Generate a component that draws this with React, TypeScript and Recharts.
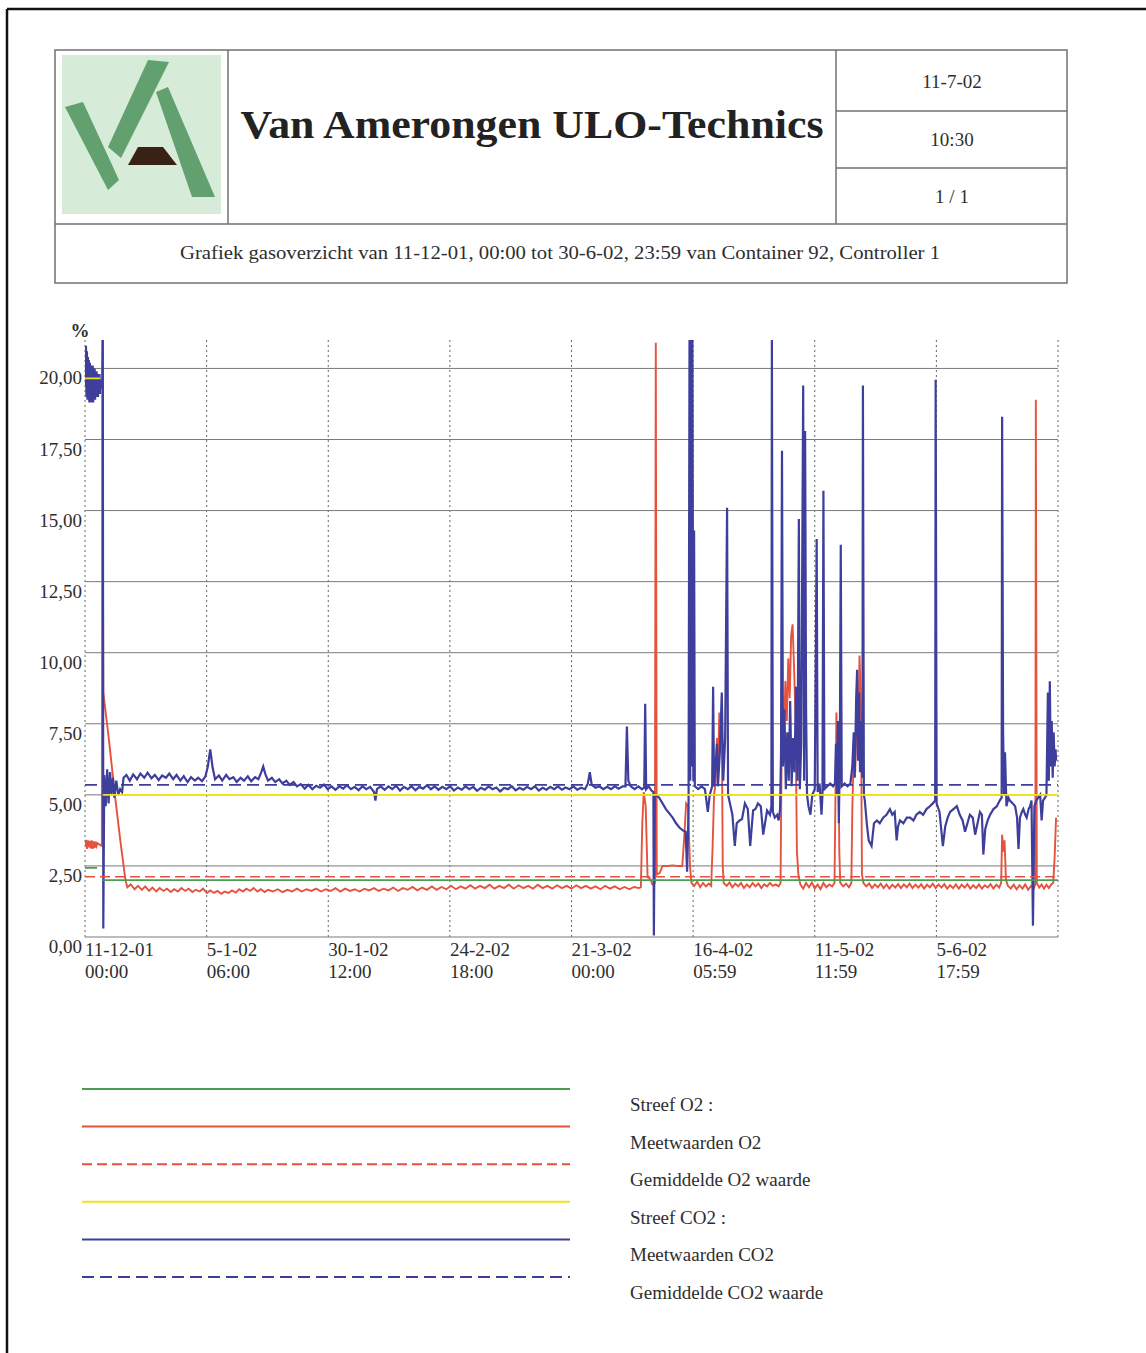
import { LineChart, Line, XAxis, YAxis, CartesianGrid, ReferenceLine } from 'recharts';

type Pt = [number, number | null];

// x = days since 11-12-01 00:00, y = percent
const X_TICKS = [0, 25.25, 50.5, 75.75, 101, 126.25, 151.5, 176.75];
const X_DATES = ['11-12-01', '5-1-02', '30-1-02', '24-2-02', '21-3-02', '16-4-02', '11-5-02', '5-6-02'];
const X_TIMES = ['00:00', '06:00', '12:00', '18:00', '00:00', '05:59', '11:59', '17:59'];
const Y_TICKS = [0, 2.5, 5, 7.5, 10, 12.5, 15, 17.5, 20];

const STREEF_O2: Pt[] = [[0, 2.43], [2.5, 2.43], [3.0, null], [3.7, 2.0], [202, 2.0]];
const GEM_O2: Pt[] = [[0, 2.12], [202, 2.12]];
const STREEF_CO2: Pt[] = [[0, 19.65], [3.1, 19.65], [3.4, null], [3.7, 5.0], [202, 5.0]];
const GEM_CO2: Pt[] = [[0, 5.35], [202, 5.35]];

const MEET_O2: Pt[] = [
    [0, 3.2], [0.2, 3.42], [0.4, 3.1], [0.6, 3.4], [0.8, 3.15], [1.0, 3.38], [1.2, 3.12], [1.4, 3.4],
    [1.6, 3.1], [1.8, 3.36], [2.0, 3.14], [2.2, 3.35], [2.4, 3.2], [2.6, 3.3],
    [3.5, 3.2], [3.6, 21], [3.8, 8.6], [5.0, 6.9], [6.2, 5.0], [7.4, 3.3], [8.4, 2.0], [8.8, 1.75],
    [9.5, 1.85], [10.3, 1.68], [11, 1.8], [11.8, 1.66], [12.5, 1.78], [13.3, 1.62], [14, 1.74], [14.8, 1.6],
    [15.5, 1.72], [16.3, 1.62], [17, 1.7], [17.8, 1.58], [18.5, 1.68], [19.3, 1.6], [20, 1.72], [20.8, 1.62],
    [21.5, 1.7], [22.3, 1.58], [23, 1.66], [23.8, 1.6], [24.5, 1.7], [25.3, 1.55], [26, 1.64], [26.8, 1.55],
    [27.5, 1.62], [28.3, 1.52], [29, 1.6], [29.8, 1.55], [30.5, 1.64], [31.3, 1.56], [32, 1.68], [32.8, 1.6],
    [33.5, 1.7], [34.3, 1.62], [35, 1.72], [35.8, 1.6], [36.5, 1.68], [37.3, 1.58], [38, 1.66], [39, 1.6],
    [40, 1.68], [41, 1.58], [42, 1.66], [43, 1.6], [44, 1.7], [45, 1.6], [46, 1.68], [47, 1.62],
    [48, 1.7], [49, 1.6], [50, 1.68], [51, 1.62], [52, 1.72], [53, 1.6], [54, 1.7], [55, 1.62],
    [56, 1.68], [57, 1.6], [58, 1.7], [59, 1.64], [60, 1.72], [61, 1.62], [62, 1.7], [63, 1.64],
    [64, 1.74], [65, 1.62], [66, 1.72], [67, 1.66], [68, 1.76], [69, 1.64], [70, 1.74], [71, 1.66],
    [72, 1.78], [73, 1.66], [74, 1.76], [75, 1.68], [76, 1.8], [77, 1.68], [78, 1.78], [79, 1.7],
    [80, 1.82], [81, 1.7], [82, 1.8], [83, 1.72], [84, 1.84], [85, 1.7], [86, 1.8], [87, 1.72],
    [88, 1.84], [89, 1.7], [90, 1.82], [91, 1.72], [92, 1.8], [93, 1.7], [94, 1.84], [95, 1.72],
    [96, 1.8], [97, 1.7], [98, 1.82], [99, 1.72], [100, 1.8], [101, 1.7], [102, 1.82], [103, 1.72],
    [104, 1.8], [105, 1.7], [106, 1.78], [107, 1.68], [108, 1.8], [109, 1.7], [110, 1.78], [111, 1.68],
    [112, 1.76], [113, 1.68], [114, 1.76], [115.0, 1.72], [115.4, 1.75], [115.7, 4.0], [116.0, 5.1], [116.4, 4.6],
    [116.8, 2.1], [117.3, 2.05], [117.8, 1.85], [118.3, 1.9], [118.5, 20.9], [118.7, 2.2], [119.3, 2.25], [119.9, 2.5],
    [121, 2.5], [122, 2.52], [123, 2.5], [124.0, 2.5], [124.4, 3.5], [124.8, 4.7], [125.2, 4.6], [125.6, 2.5],
    [125.9, 1.9], [126.5, 1.8], [127.1, 1.95], [127.7, 1.75], [128.3, 1.9], [128.9, 1.78], [129.5, 1.88], [130.0, 1.8],
    [130.3, 3.2], [130.6, 5.0], [130.9, 5.4], [131.2, 7.0], [131.4, 6.0], [131.7, 7.9], [132.0, 6.5], [132.2, 7.4],
    [132.4, 2.5], [132.6, 1.9], [133.2, 1.8], [133.8, 1.92], [134.4, 1.75], [135.0, 1.88], [135.6, 1.78], [136.2, 1.9],
    [136.8, 1.72], [137.4, 1.85], [138.0, 1.75], [138.6, 1.9], [139.2, 1.78], [139.8, 1.88], [140.4, 1.72], [141.0, 1.85],
    [141.6, 1.78], [142.2, 1.9], [142.8, 1.8], [143.4, 1.85], [144.0, 1.78], [144.4, 1.9], [144.6, 6.0], [144.8, 8.1],
    [145.1, 6.8], [145.4, 9.0], [145.7, 7.6], [146.0, 9.8], [146.3, 8.4], [146.6, 10.6], [146.9, 11.0], [147.2, 9.5],
    [147.5, 7.8], [147.8, 3.0], [148.1, 2.2], [148.5, 1.85], [149.1, 1.7], [149.7, 1.9], [150.3, 1.75], [150.9, 1.92],
    [151.5, 1.7], [152.1, 1.85], [152.7, 1.68], [153.3, 1.9], [153.9, 1.75], [154.5, 1.85], [155.1, 1.78], [155.6, 1.9],
    [155.8, 5.0], [156.0, 7.9], [156.2, 6.2], [156.4, 7.0], [156.6, 3.0], [156.8, 1.9], [157.4, 1.78], [158.0, 1.88],
    [158.6, 1.75], [159.1, 1.9], [159.3, 4.5], [159.6, 6.5], [159.9, 5.8], [160.2, 7.8], [160.5, 7.0], [160.8, 9.9],
    [161.1, 8.0], [161.3, 2.2], [161.6, 1.9], [162.2, 1.78], [162.8, 1.88], [163.4, 1.72], [164.0, 1.85], [164.6, 1.75],
    [165.2, 1.88], [165.8, 1.72], [166.4, 1.85], [167.0, 1.7], [167.6, 1.84], [168.2, 1.74], [168.8, 1.86], [169.4, 1.72],
    [170.0, 1.85], [170.6, 1.75], [171.2, 1.88], [171.8, 1.72], [172.4, 1.84], [173.0, 1.74], [173.6, 1.86], [174.2, 1.7],
    [174.8, 1.84], [175.4, 1.75], [176.0, 1.88], [176.6, 1.72], [177.2, 1.85], [177.8, 1.74], [178.4, 1.86], [179.0, 1.7],
    [179.6, 1.82], [180.2, 1.72], [180.8, 1.85], [181.4, 1.7], [182.0, 1.84], [182.6, 1.74], [183.2, 1.86], [183.8, 1.7],
    [184.4, 1.82], [185.0, 1.72], [185.6, 1.85], [186.2, 1.7], [186.8, 1.82], [187.4, 1.74], [188.0, 1.86], [188.6, 1.7],
    [189.2, 1.84], [189.8, 1.74], [190.2, 1.9], [190.4, 3.6], [190.7, 3.0], [190.9, 3.4], [191.2, 2.0], [191.6, 1.8],
    [192.2, 1.7], [192.8, 1.84], [193.4, 1.68], [194.0, 1.82], [194.6, 1.7], [195.2, 1.85], [195.8, 1.66], [196.4, 1.8],
    [197.0, 1.72], [197.3, 1.85], [197.4, 18.9], [197.6, 1.9], [198.1, 1.74], [198.6, 1.85], [199.1, 1.7], [199.6, 1.84],
    [200.1, 1.72], [200.6, 1.85], [201.0, 1.9], [201.3, 2.8], [201.6, 4.2],
];

const MEET_CO2: Pt[] = [
    [0, 20.5], [0.1, 19.4], [0.2, 20.8], [0.3, 19.0], [0.4, 20.6], [0.5, 18.9], [0.6, 20.4], [0.7, 19.1],
    [0.8, 20.3], [0.9, 18.8], [1.0, 20.2], [1.1, 19.0], [1.2, 20.1], [1.3, 18.8], [1.4, 20.0], [1.5, 18.9],
    [1.6, 20.1], [1.7, 18.8], [1.8, 19.9], [1.9, 19.0], [2.0, 20.0], [2.1, 18.9], [2.2, 19.8], [2.3, 19.0],
    [2.4, 19.9], [2.5, 19.1], [2.6, 19.8], [2.7, 19.0], [2.8, 19.7], [2.9, 19.2], [3.0, 19.8], [3.1, 19.1],
    [3.2, 19.6], [3.3, 19.3], [3.4, 19.5], [3.6, 19.6], [3.7, 21], [3.8, 0.3], [4.0, 5.7], [4.3, 4.6], [4.6, 5.9],
    [4.9, 4.7], [5.2, 5.8], [5.5, 5.0], [5.8, 5.6], [6.1, 4.9], [6.5, 5.5], [6.9, 5.0], [7.3, 5.2],
    [7.7, 5.1], [8.0, 5.6], [8.6, 5.7], [9.3, 5.5], [10, 5.72], [10.8, 5.55], [11.5, 5.75], [12.3, 5.6],
    [13, 5.78], [13.8, 5.58], [14.5, 5.7], [15.3, 5.52], [16, 5.68], [16.8, 5.6], [17.5, 5.75], [18.3, 5.55],
    [19, 5.7], [19.8, 5.5], [20.5, 5.66], [21.3, 5.45], [22, 5.62], [22.8, 5.5], [23.5, 5.6], [24.3, 5.48],
    [25, 5.65], [25.5, 6.0], [26.0, 6.6], [26.5, 5.95], [27.0, 5.55], [27.8, 5.68], [28.5, 5.5], [29.3, 5.7],
    [30, 5.55], [30.8, 5.62], [31.5, 5.45], [32.3, 5.6], [33, 5.5], [33.8, 5.65], [34.5, 5.48], [35.3, 5.62],
    [36, 5.55], [36.6, 5.8], [37.0, 6.0], [37.5, 5.7], [38.0, 5.5], [38.8, 5.6], [39.5, 5.45], [40.3, 5.55],
    [41, 5.4], [41.8, 5.5], [42.5, 5.35], [43.3, 5.45], [44, 5.3], [44.8, 5.38], [45.6, 5.22], [46.4, 5.35],
    [47.2, 5.2], [48, 5.32], [48.8, 5.25], [49.6, 5.36], [50.4, 5.2], [51.2, 5.3], [52, 5.18], [52.8, 5.3],
    [53.6, 5.22], [54.4, 5.34], [55.2, 5.2], [56, 5.28], [56.8, 5.16], [57.6, 5.3], [58.4, 5.2], [59.2, 5.28],
    [60.0, 5.1], [60.3, 4.8], [60.6, 5.2], [61.4, 5.3], [62.2, 5.18], [63, 5.3], [63.8, 5.2], [64.6, 5.32],
    [65.4, 5.15], [66.2, 5.28], [67, 5.2], [67.8, 5.3], [68.6, 5.16], [69.4, 5.28], [70.2, 5.22], [71, 5.34],
    [71.8, 5.2], [72.6, 5.3], [73.4, 5.18], [74.2, 5.28], [75, 5.2], [75.8, 5.3], [76.6, 5.15], [77.4, 5.26],
    [78.2, 5.18], [79, 5.3], [79.8, 5.2], [80.6, 5.28], [81.4, 5.14], [82.2, 5.25], [83, 5.18], [83.8, 5.3],
    [84.6, 5.2], [85.4, 5.26], [86.2, 5.12], [87, 5.24], [87.8, 5.2], [88.6, 5.3], [89.4, 5.16], [90.2, 5.25],
    [91, 5.18], [91.8, 5.28], [92.6, 5.2], [93.4, 5.3], [94.2, 5.15], [95, 5.25], [95.8, 5.18], [96.6, 5.28],
    [97.4, 5.2], [98.2, 5.3], [99, 5.18], [99.8, 5.26], [100.6, 5.2], [101.4, 5.3], [102.2, 5.18], [103, 5.25],
    [103.8, 5.2], [104.4, 5.4], [104.8, 5.8], [105.2, 5.35], [106, 5.25], [106.8, 5.3], [107.6, 5.2], [108.4, 5.28],
    [109.2, 5.2], [110, 5.3], [110.8, 5.22], [111.6, 5.3], [112.2, 5.3], [112.5, 7.4], [112.8, 5.5], [113.3, 5.3],
    [114.1, 5.2], [114.9, 5.3], [115.6, 5.2], [116.1, 5.25], [116.3, 8.2], [116.5, 5.2], [117.0, 5.3], [117.6, 5.15],
    [118.0, 5.1], [118.1, 0.05], [118.3, 5.0], [118.5, 5.0], [119.2, 4.9], [119.9, 4.7], [120.6, 4.5], [121.3, 4.35],
    [122.0, 4.2], [122.7, 4.0], [123.4, 3.85], [124.1, 3.75], [124.7, 3.7], [125.0, 2.3], [125.3, 4.5], [125.5, 21],
    [125.65, 5.5], [125.8, 21], [125.95, 6.0], [126.1, 21], [126.3, 5.5], [126.45, 14.3], [126.6, 5.3], [127.3, 5.2],
    [128.0, 5.3], [128.7, 5.2], [129.3, 4.4], [129.7, 5.0], [130.2, 5.3], [130.4, 8.8], [130.6, 5.3], [130.9, 6.0],
    [131.2, 6.8], [131.4, 5.3], [131.8, 6.5], [132.2, 8.6], [132.5, 5.5], [132.9, 7.0], [133.3, 15.1], [133.5, 5.0],
    [133.9, 4.7], [134.4, 4.3], [134.9, 3.2], [135.3, 4.0], [135.9, 4.1], [136.4, 4.15], [137.0, 4.7], [137.6, 4.5],
    [138.1, 3.2], [138.7, 4.45], [139.2, 4.5], [139.7, 4.7], [140.3, 4.6], [140.8, 3.6], [141.6, 4.45], [142.2, 4.3],
    [142.5, 4.6], [142.6, 21], [142.8, 4.4], [143.2, 4.2], [143.7, 4.3], [144.0, 4.1], [144.3, 4.5], [144.5, 6.5],
    [144.7, 17.1], [144.9, 6.0], [145.2, 8.0], [145.5, 5.2], [145.8, 7.2], [146.1, 5.5], [146.4, 8.3], [146.7, 5.3],
    [147.0, 7.0], [147.3, 5.8], [147.6, 8.8], [147.9, 5.5], [148.2, 14.7], [148.4, 5.2], [148.7, 6.8], [149.1, 19.4],
    [149.3, 5.5], [149.5, 17.8], [149.7, 8.0], [149.9, 5.0], [150.2, 4.6], [150.6, 4.3], [151.0, 5.0], [151.5, 5.2],
    [151.9, 14.0], [152.1, 5.1], [152.5, 5.4], [152.9, 4.3], [153.1, 5.0], [153.3, 15.7], [153.5, 5.2], [154.1, 5.3],
    [154.7, 5.4], [155.3, 5.3], [155.7, 5.4], [155.9, 6.8], [156.1, 5.0], [156.3, 7.6], [156.5, 4.0], [156.7, 6.2],
    [156.9, 13.8], [157.1, 5.3], [157.7, 5.4], [158.3, 5.3], [158.9, 5.4], [159.3, 6.0], [159.6, 7.2], [159.8, 5.6],
    [160.1, 8.4], [160.3, 9.4], [160.5, 6.2], [160.7, 8.6], [160.9, 5.8], [161.2, 7.6], [161.4, 5.6], [161.5, 19.4],
    [161.7, 5.0], [161.9, 4.8], [162.3, 4.0], [162.7, 3.4], [163.3, 3.2], [163.8, 4.0], [164.4, 4.1], [165.0, 4.0],
    [165.7, 4.2], [166.4, 4.3], [167.1, 4.5], [167.6, 4.3], [168.1, 4.4], [168.5, 3.4], [168.8, 3.9], [169.2, 4.1],
    [169.9, 4.0], [170.6, 4.2], [171.3, 4.2], [172.0, 4.1], [172.6, 4.3], [173.3, 4.4], [174.0, 4.3], [174.7, 4.5],
    [175.4, 4.6], [176.0, 4.7], [176.5, 4.8], [176.6, 19.6], [176.8, 4.7], [177.4, 4.4], [178.1, 3.2], [178.6, 3.9],
    [179.1, 4.2], [179.6, 4.4], [180.3, 4.5], [181.0, 4.6], [181.6, 4.3], [182.2, 4.1], [182.7, 3.7], [183.2, 4.0],
    [183.7, 4.3], [184.3, 4.2], [184.8, 3.6], [185.3, 4.0], [185.8, 4.4], [186.2, 4.3], [186.5, 2.9], [186.9, 3.8],
    [187.4, 4.1], [187.9, 4.3], [188.6, 4.5], [189.3, 4.6], [189.9, 4.8], [190.3, 4.9], [190.4, 18.3], [190.6, 7.2],
    [190.8, 5.0], [191.0, 6.5], [191.3, 4.6], [191.7, 4.9], [192.0, 4.8], [192.6, 4.7], [193.1, 4.6], [193.5, 4.2],
    [193.8, 3.1], [194.1, 4.2], [194.5, 4.4], [194.8, 4.5], [195.2, 4.3], [195.5, 4.2], [195.9, 4.5], [196.2, 4.6],
    [196.5, 4.8], [196.8, 0.4], [197.1, 4.6], [197.5, 4.8], [197.9, 4.9], [198.3, 5.0], [198.6, 4.1], [198.9, 4.8],
    [199.3, 4.9], [199.6, 5.0], [199.9, 8.6], [200.1, 5.5], [200.3, 9.0], [200.5, 6.0], [200.7, 7.6], [200.9, 5.6],
    [201.1, 7.2], [201.3, 6.0], [201.5, 6.6], [201.6, 6.2],
];

const LEGEND_LABELS = [
    'Streef O2 :',
    'Meetwaarden O2',
    'Gemiddelde O2 waarde',
    'Streef CO2 :',
    'Meetwaarden CO2',
    'Gemiddelde CO2 waarde',
];

const FONT = '"Liberation Serif", "Times New Roman", serif';
const RED = '#e5533f';
const BLUE = '#3e3e9c';
const GREEN = '#4a9d52';
const YELLOW = '#f0e21c';
const TEXT = '#2e2e2e';
const RULE = '#707070';

const LEGEND_STYLE = [
    { color: GREEN, dash: undefined },
    { color: RED, dash: undefined },
    { color: RED, dash: '10 5' },
    { color: YELLOW, dash: undefined },
    { color: BLUE, dash: undefined },
    { color: BLUE, dash: '12 6' },
];

const rows = (pts: Pt[]) => pts.map(([d, v]) => ({ d, v }));

function YTick({ x, y, payload }: any) {
    return (
        <text x={x} y={y + 16} textAnchor="end" fontSize={19} fill={TEXT} fontFamily={FONT}>
            {Number(payload.value).toFixed(2).replace('.', ',')}
        </text>
    );
}

function XTick({ x, y, payload }: any) {
    const i = X_TICKS.indexOf(payload.value);
    return (
        <g fontSize={19} fill={TEXT} fontFamily={FONT}>
            <text x={x} y={y + 19} textAnchor="start">{X_DATES[i]}</text>
            <text x={x} y={y + 41} textAnchor="start">{X_TIMES[i]}</text>
        </g>
    );
}

export default function App() {
    return (
        <div style={{ position: 'absolute', left: 0, top: 0, width: 1146, height: 1353, background: '#fff', overflow: 'hidden' }}>
            <svg width={1146} height={1353} style={{ position: 'absolute', left: 0, top: 0 }} fontFamily={FONT}>
                {/* page frame */}
                <line x1={7} y1={9} x2={1146} y2={9} stroke="#111" strokeWidth={2.5} />
                <line x1={7} y1={9} x2={7} y2={1353} stroke="#111" strokeWidth={2.5} />

                {/* header table */}
                <rect x={55} y={50} width={1012} height={233} fill="none" stroke={RULE} strokeWidth={1.5} />
                <line x1={228} y1={50} x2={228} y2={224} stroke={RULE} strokeWidth={1.5} />
                <line x1={836} y1={50} x2={836} y2={224} stroke={RULE} strokeWidth={1.5} />
                <line x1={55} y1={224} x2={1067} y2={224} stroke={RULE} strokeWidth={1.5} />
                <line x1={836} y1={111} x2={1067} y2={111} stroke={RULE} strokeWidth={1.5} />
                <line x1={836} y1={168} x2={1067} y2={168} stroke={RULE} strokeWidth={1.5} />

                {/* logo */}
                <rect x={62} y={55} width={159} height={159} fill="#d6ecd8" />
                <polygon points="65,107 83,102 119,180 108,190" fill="#62a06f" />
                <polygon points="148,60 169,62 121,158 108,147" fill="#62a06f" />
                <polygon points="156,92 168,87 215,197 192,197" fill="#62a06f" />
                <polygon points="138,147 163,147 177,165 128,165" fill="#3a2116" />

                <text x={532} y={138} textAnchor="middle" fontSize={41} fontWeight="bold" fill="#222"
                    textLength={583} lengthAdjust="spacingAndGlyphs">
                    Van Amerongen ULO-Technics
                </text>
                <text x={952} y={88} textAnchor="middle" fontSize={19} fill={TEXT}>11-7-02</text>
                <text x={952} y={146} textAnchor="middle" fontSize={19} fill={TEXT}>10:30</text>
                <text x={952} y={203} textAnchor="middle" fontSize={19} fill={TEXT}>1 / 1</text>
                <text x={560} y={259} textAnchor="middle" fontSize={18} fill={TEXT}
                    textLength={760} lengthAdjust="spacingAndGlyphs">
                    Grafiek gasoverzicht van 11-12-01, 00:00 tot 30-6-02, 23:59 van Container 92, Controller 1
                </text>

                <text x={80} y={337} textAnchor="middle" fontSize={19} fontWeight="bold" fill={TEXT}>%</text>

                {/* legend */}
                {LEGEND_LABELS.map((label, i) => (
                    <g key={label}>
                        <line x1={82} y1={1089 + i * 37.6} x2={570} y2={1089 + i * 37.6}
                            stroke={LEGEND_STYLE[i].color} strokeWidth={2} strokeDasharray={LEGEND_STYLE[i].dash} />
                        <text x={630} y={1111 + i * 37.5} fontSize={19} fill={TEXT}>{label}</text>
                    </g>
                ))}
            </svg>

            {/* Chart */}
            <div style={{ position: 'absolute', left: 0, top: 300 }}>
                <LineChart width={1146} height={700} margin={{ top: 40, right: 88, bottom: 0, left: 0 }}>
                    <CartesianGrid horizontal={false} vertical syncWithTicks stroke="#666" strokeDasharray="2 3" />
                    <CartesianGrid horizontal vertical={false} syncWithTicks stroke="#7a7a7a" />
                    <XAxis
                        type="number"
                        dataKey="d"
                        domain={[0, 202]}
                        ticks={X_TICKS}
                        interval={0}
                        height={63}
                        axisLine={false}
                        tickLine={false}
                        tickSize={0}
                        tickMargin={0}
                        tick={<XTick />}
                        allowDataOverflow
                    />
                    <YAxis
                        type="number"
                        domain={[0, 21]}
                        ticks={Y_TICKS}
                        interval={0}
                        width={85}
                        axisLine={false}
                        tickLine={false}
                        tickSize={0}
                        tickMargin={3}
                        tick={<YTick />}
                        allowDataOverflow
                    />
                    <ReferenceLine x={202} stroke="#666" strokeDasharray="2 3" />
                    <Line data={rows(MEET_O2)} dataKey="v" type="linear" stroke={RED} strokeWidth={1.9}
                        dot={false} activeDot={false} isAnimationActive={false} />
                    <Line data={rows(MEET_CO2)} dataKey="v" type="linear" stroke={BLUE} strokeWidth={2.2}
                        dot={false} activeDot={false} isAnimationActive={false} />
                    <Line data={rows(STREEF_O2)} dataKey="v" type="linear" stroke={GREEN} strokeWidth={1.6}
                        dot={false} activeDot={false} isAnimationActive={false} />
                    <Line data={rows(GEM_O2)} dataKey="v" type="linear" stroke={RED} strokeWidth={1.6}
                        strokeDasharray="10 5" dot={false} activeDot={false} isAnimationActive={false} />
                    <Line data={rows(STREEF_CO2)} dataKey="v" type="linear" stroke={YELLOW} strokeWidth={1.6}
                        dot={false} activeDot={false} isAnimationActive={false} />
                    <Line data={rows(GEM_CO2)} dataKey="v" type="linear" stroke={BLUE} strokeWidth={1.6}
                        strokeDasharray="12 6" dot={false} activeDot={false} isAnimationActive={false} />
                </LineChart>
            </div>
        </div>
    );
}
